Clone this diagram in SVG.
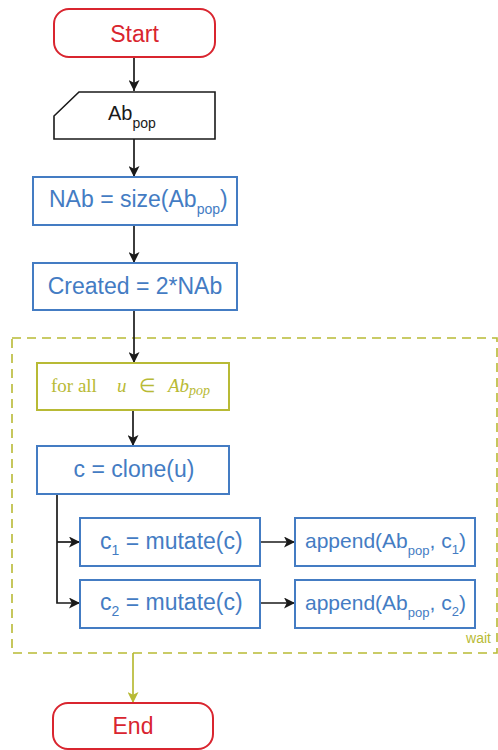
<svg xmlns="http://www.w3.org/2000/svg" width="498" height="750" viewBox="0 0 498 750">
<defs>
<style>
.term{fill:#fff;stroke:#d9252f;stroke-width:2}
.proc{fill:#fff;stroke:#447cc3;stroke-width:2}
.loop{fill:#fff;stroke:#b8ba35;stroke-width:2}
.io{fill:#fff;stroke:#1a1a1a;stroke-width:1.6}
.t{font-family:"Liberation Sans",Arial,sans-serif;font-size:23px}
.ts{font-family:"Liberation Sans",Arial,sans-serif;font-size:21px}
.tr{fill:#d9252f}
.tb{fill:#447cc3}
.tk{fill:#1a1a1a}
.sub{font-size:14px}
.sub13{font-size:13px}
.ser{font-family:"Liberation Serif","Times New Roman",serif;font-size:19px;fill:#b8ba35}
.edge{fill:none;stroke:#1a1a1a;stroke-width:1.7}
.edgeo{fill:none;stroke:#b8ba35;stroke-width:1.7}
</style>
<marker id="ah" viewBox="0 0 10 10" refX="10" refY="5" markerWidth="11" markerHeight="11" markerUnits="userSpaceOnUse" orient="auto">
<path d="M0,0 L10,5 L0,10 L2.5,5 Z" fill="#1a1a1a"/>
</marker>
<marker id="aho" viewBox="0 0 10 10" refX="10" refY="5" markerWidth="11" markerHeight="11" markerUnits="userSpaceOnUse" orient="auto">
<path d="M0,0 L10,5 L0,10 L2.5,5 Z" fill="#b8ba35"/>
</marker>
</defs>
<rect width="498" height="750" fill="#fff"/>

<g id="wait-region">
<rect x="12" y="338" width="485" height="315" fill="none" stroke="#b8ba35" stroke-width="1.6" stroke-dasharray="9,6"/>
<text x="491" y="643" text-anchor="end" font-family="Liberation Sans,Arial,sans-serif" font-size="14" fill="#b8ba35">wait</text>
</g>

<g id="connectors">
<line class="edge" x1="134" y1="57" x2="134" y2="91" marker-end="url(#ah)"/>
<line class="edge" x1="134" y1="139" x2="134" y2="177" marker-end="url(#ah)"/>
<line class="edge" x1="134" y1="225" x2="134" y2="263" marker-end="url(#ah)"/>
<line class="edge" x1="134" y1="310" x2="134" y2="363" marker-end="url(#ah)"/>
<line class="edge" x1="133" y1="410" x2="133" y2="446" marker-end="url(#ah)"/>
<path class="edge" d="M57,494 V603 H80" marker-end="url(#ah)"/>
<path class="edge" d="M57,542 H80" marker-end="url(#ah)"/>
<line class="edge" x1="260" y1="542" x2="295" y2="542" marker-end="url(#ah)"/>
<line class="edge" x1="260" y1="603" x2="295" y2="603" marker-end="url(#ah)"/>
<line class="edgeo" x1="133" y1="653" x2="133" y2="703" marker-end="url(#aho)"/>
</g>

<g id="start">
<rect class="term" x="54" y="9" width="161" height="48" rx="15"/>
<text class="t tr" x="134.5" y="42" text-anchor="middle">Start</text>
</g>

<g id="input-abpop">
<path class="io" d="M79,92 H215 V139 H54 V116 Z"/>
<text class="tk" x="108" y="120" style="font-family:'Liberation Sans',Arial,sans-serif;font-size:20px">Ab<tspan class="sub" dy="8">pop</tspan></text>
</g>

<g id="nab">
<rect class="proc" x="33" y="177" width="204" height="48"/>
<text class="t tb" x="49" y="207">NAb = size(Ab<tspan class="sub" dy="7">pop</tspan><tspan dy="-7">)</tspan></text>
</g>

<g id="created">
<rect class="proc" x="33" y="263" width="204" height="47"/>
<text class="t tb" x="135" y="294" text-anchor="middle">Created = 2*NAb</text>
</g>

<g id="forall">
<rect class="loop" x="37" y="363" width="192" height="47"/>
<text class="ser" x="51" y="392">for all<tspan x="117" font-style="italic">u</tspan><tspan x="139">∈</tspan><tspan x="168" font-style="italic">Ab</tspan><tspan font-style="italic" font-size="14" dy="3">pop</tspan></text>
</g>

<g id="clone">
<rect class="proc" x="37" y="446" width="192" height="48"/>
<text class="t tb" x="134" y="477" text-anchor="middle">c = clone(u)</text>
</g>

<g id="mutate1">
<rect class="proc" x="80" y="518" width="180" height="48"/>
<text class="t tb" x="100" y="549">c<tspan class="sub" dy="6">1</tspan><tspan dy="-6"> = mutate(c)</tspan></text>
</g>

<g id="mutate2">
<rect class="proc" x="80" y="580" width="180" height="48"/>
<text class="t tb" x="100" y="610">c<tspan class="sub" dy="6">2</tspan><tspan dy="-6"> = mutate(c)</tspan></text>
</g>

<g id="append1">
<rect class="proc" x="295" y="518" width="180" height="48"/>
<text class="ts tb" x="305" y="548">append(Ab<tspan class="sub13" dy="7">pop</tspan><tspan dy="-7">, c</tspan><tspan class="sub13" dy="6">1</tspan><tspan dy="-6">)</tspan></text>
</g>

<g id="append2">
<rect class="proc" x="295" y="580" width="180" height="48"/>
<text class="ts tb" x="305" y="610">append(Ab<tspan class="sub13" dy="7">pop</tspan><tspan dy="-7">, c</tspan><tspan class="sub13" dy="6">2</tspan><tspan dy="-6">)</tspan></text>
</g>

<g id="end">
<rect class="term" x="53" y="703" width="160" height="46" rx="15"/>
<text class="t tr" x="133" y="734" text-anchor="middle">End</text>
</g>
</svg>
